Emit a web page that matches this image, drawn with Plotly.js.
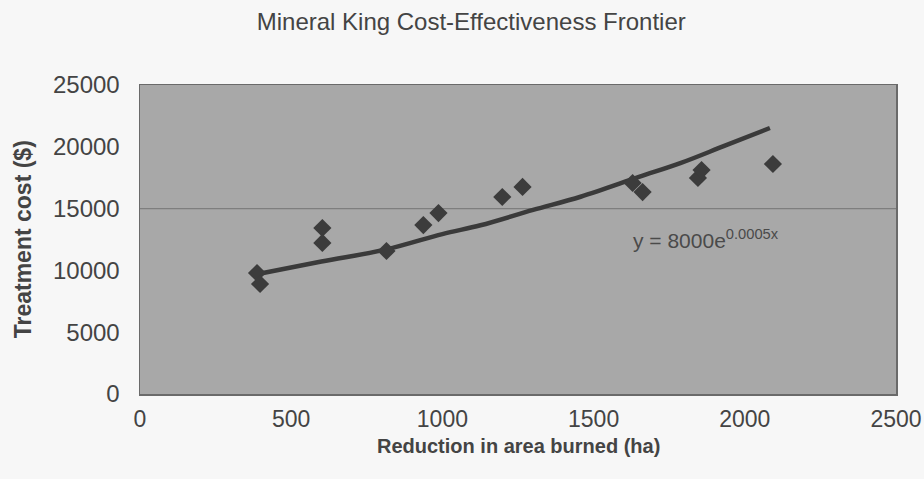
<!DOCTYPE html>
<html>
<head>
<meta charset="utf-8">
<script src="https://cdn.plot.ly/plotly-3.0.1.min.js"></script>
<style>
html,body{margin:0;padding:0;background:#f7f7f7;}
#chart{width:924px;height:479px;}
</style>
</head>
<body>
<div id="chart"></div>
<script>
var areaReduction = [387, 397, 603, 603, 815, 937, 987, 1198, 1265, 1629, 1662, 1845, 1857, 2093];
var treatmentCost = [9790, 8900, 13430, 12220, 11570, 13670, 14640, 15940, 16750, 17070, 16340, 17480, 18120, 18610];

// Trend line
var trendX = [390, 600, 815, 1000, 1126, 1300, 1457, 1650, 1789, 1930, 2083];
var trendY = [9710, 10720, 11700, 12940, 13650, 14890, 15960, 17560, 18700, 20050, 21520];

var xTicks = [0, 500, 1000, 1500, 2000, 2500];
var yTicks = [0, 5000, 10000, 15000, 20000, 25000];

var chartTitle = "Mineral King Cost-Effectiveness Frontier";
var xTitle = "Reduction in area burned (ha)";
var yTitle = "Treatment cost ($)";
var equation = "y = 8000e<sup>0.0005x</sup>";

var font = "Liberation Sans, Arial, sans-serif";
var txt = "#444444";

var traces = [
  {
    x: trendX, y: trendY, type: "scatter", mode: "lines",
    line: {color: "#3a3a3a", width: 4.5, shape: "spline"},
    hoverinfo: "skip"
  },
  {
    x: areaReduction, y: treatmentCost, type: "scatter", mode: "markers",
    marker: {symbol: "diamond", size: 14, color: "#3c3c3c", line: {width: 0}}
  }
];

var layout = {
  width: 924, height: 479,
  paper_bgcolor: "#f7f7f7",
  plot_bgcolor: "#a8a8a8",
  showlegend: false,
  margin: {l: 140, r: 28, t: 85, b: 85},
  title: {
    text: chartTitle,
    font: {family: font, size: 24, color: txt},
    x: 0.51, xanchor: "center", y: 0.955, yanchor: "middle"
  },
  xaxis: {
    range: [0, 2500], tickvals: xTicks, ticktext: xTicks.map(String),
    showgrid: false, zeroline: false,
    showline: true, mirror: true, linecolor: "#6a6a6a", linewidth: 1.5,
    ticks: "", ticklabelstandoff: 4,
    tickfont: {family: font, size: 23, color: txt}
  },
  yaxis: {
    range: [0, 25000], tickvals: yTicks, ticktext: yTicks.map(String),
    showgrid: false, zeroline: false,
    showline: true, mirror: true, linecolor: "#6a6a6a", linewidth: 1.5,
    ticks: "", ticklabelstandoff: 14,
    tickfont: {family: font, size: 24, color: txt}
  },
  shapes: [
    {type: "line", xref: "paper", x0: 0, x1: 1, yref: "y", y0: 15000, y1: 15000,
     line: {color: "#7e7e7e", width: 1.2}, layer: "below"}
  ],
  annotations: [
    {text: equation, xref: "x", yref: "y", x: 1625, y: 12550, xanchor: "left", yanchor: "middle",
     showarrow: false, font: {family: font, size: 21, color: "#4a4a4a"}},
    {text: "<b>" + xTitle + "</b>", xref: "paper", yref: "paper", x: 0.5, y: -0.168,
     xanchor: "center", yanchor: "middle", showarrow: false,
     font: {family: font, size: 20, color: txt}},
    {text: "<b>" + yTitle + "</b>", xref: "paper", yref: "paper", x: -0.155, y: 0.5,
     xanchor: "center", yanchor: "middle", textangle: -90, showarrow: false,
     font: {family: font, size: 23, color: txt}}
  ]
};

Plotly.newPlot("chart", traces, layout, {displayModeBar: false, staticPlot: true});
</script>
</body>
</html>
